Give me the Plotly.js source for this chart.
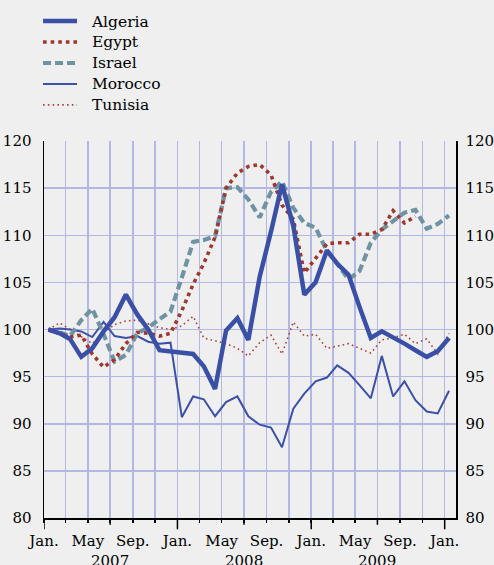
<!DOCTYPE html>
<html><head><meta charset="utf-8">
<script src="https://cdn.plot.ly/plotly-3.0.1.min.js"></script>
<style>
html,body{margin:0;padding:0;background:#efefef}
</style>
</head><body><div id="chart" style="width:494px;height:565px"></div>
<script>
const months = ['2007-01','2007-02','2007-03','2007-04','2007-05','2007-06','2007-07','2007-08','2007-09','2007-10','2007-11','2007-12',
'2008-01','2008-02','2008-03','2008-04','2008-05','2008-06','2008-07','2008-08','2008-09','2008-10','2008-11','2008-12',
'2009-01','2009-02','2009-03','2009-04','2009-05','2009-06','2009-07','2009-08','2009-09','2009-10','2009-11','2009-12','2010-01'];
const algeria = [100,99.6,99.0,97.1,98.0,99.8,101.3,103.7,101.6,100.0,97.8,97.7,97.5,97.4,96.1,93.7,99.9,101.2,98.9,105.6,110.4,115.4,111.0,103.7,105.0,108.4,107.0,105.8,102.4,99.1,99.8,99.2,98.5,97.8,97.1,97.7,99.1];
const egypt = [100,99.6,99.2,99.4,97.4,96.0,96.8,98.5,99.7,99.6,99.3,99.6,102.0,104.8,107.0,109.8,115.0,116.6,117.3,117.5,116.4,113.2,111.7,106.0,107.6,109.1,109.2,109.2,110.1,110.1,110.6,112.6,111.3,112.0,null,null,null];
const israel = [100,99.7,99.3,101.0,102.2,99.5,96.6,97.3,99.6,100.2,101.1,101.9,105.5,109.3,109.5,109.9,115.0,115.1,113.8,111.9,114.6,115.7,112.9,111.3,110.8,108.3,107.0,105.3,106.2,109.2,110.6,111.5,112.4,112.7,110.7,111.2,112.1];
const morocco = [100,100.1,100.0,99.8,99.2,100.8,99.3,99.1,99.3,98.7,98.5,98.6,90.7,92.9,92.6,90.8,92.3,92.9,90.8,89.9,89.6,87.5,91.6,93.2,94.5,94.9,96.2,95.4,94.1,92.7,97.2,92.9,94.5,92.5,91.3,91.1,93.5];
const tunisia = [100,100.7,100.0,99.2,98.5,99.7,100.5,100.9,101.0,100.6,100.2,100.0,100.4,101.4,99.1,98.8,98.5,98.0,97.2,98.6,99.4,97.4,100.8,99.3,99.5,98.0,98.2,98.5,98.0,97.5,98.9,99.1,99.5,98.5,99.0,97.4,99.6];

const tickVals = ['2007-01-01','2007-05-01','2007-09-01','2008-01-01','2008-05-01','2008-09-01','2009-01-01','2009-05-01','2009-09-01','2010-01-01'];
const tickText = ['Jan.','May','Sep.','Jan.','May','Sep.','Jan.','May','Sep.','Jan.'];
const yearLabels = ['2007','2008','2009'];
const yearPos = ['2007-07-01','2008-07-01','2009-07-01'];
const janTicks = ['2007-01-01','2008-01-01','2009-01-01','2010-01-01'];
const julTicks = ['2007-07-01','2008-07-01','2009-07-01'];

const x = months.map(m => m + '-13');
const serif = 'DejaVu Serif';
const fs = 15;
const lbl = s => '<span style="font-size:15.5px">&nbsp;&nbsp;' + s + '</span>';

const traces = [
  {name: lbl('Tunisia'), y: tunisia, line: {color: '#a8463c', width: 1.6, dash: '1.6px,3.2px'}},
  {name: lbl('Morocco'), y: morocco, line: {color: '#3b50a8', width: 2}},
  {name: lbl('Israel'), y: israel, line: {color: '#7093a3', width: 4.2, dash: '8px,4px'}},
  {name: lbl('Egypt'), y: egypt, line: {color: '#a0372d', width: 3.6, dash: '3.6px,4px'}},
  {name: lbl('Algeria'), y: algeria, line: {color: '#3a4fa6', width: 4.5}}
].map(t => Object.assign({x: x, type: 'scatter', mode: 'lines', hoverinfo: 'skip'}, t));
traces.push({x: [null], y: [null], yaxis: 'y2', showlegend: false, type: 'scatter', mode: 'lines', hoverinfo: 'skip'});

const shapes = [];
janTicks.forEach(d => shapes.push({type: 'line', xref: 'x', yref: 'paper', x0: d, x1: d, y0: -0.004, y1: -0.03, line: {color: '#000', width: 1.5}}));
julTicks.forEach(d => shapes.push({type: 'line', xref: 'x', yref: 'paper', x0: d, x1: d, y0: -0.004, y1: -0.018, line: {color: '#000', width: 1.5}}));

const annotations = yearLabels.map((t, i) => ({text: t, x: yearPos[i], xref: 'x', yref: 'paper', y: 0, yanchor: 'top', yshift: -32, showarrow: false, font: {family: serif, size: fs, color: '#000'}}));

const gridColor = '#b3b7e3';
const tf = {family: serif, size: fs, color: '#000'};
const layout = {
  width: 494, height: 565,
  paper_bgcolor: '#efefef', plot_bgcolor: '#efefef',
  margin: {l: 44, r: 38, t: 141, b: 47, pad: 0, autoexpand: false},
  font: tf,
  showlegend: true,
  legend: {xref: 'container', yref: 'container', x: 0.077, y: 0.99, xanchor: 'left', yanchor: 'top', traceorder: 'reversed', bgcolor: 'rgba(0,0,0,0)', font: {family: serif, size: 13.8, color: '#000'}, itemwidth: 34},
  xaxis: {
    type: 'date', range: ['2007-01-01', '2010-02-01'], automargin: false,
    tickmode: 'array', tickvals: tickVals, ticktext: tickText, tickangle: 0,
    ticks: 'outside', ticklen: 3, tickwidth: 1.5, tickcolor: '#000',
    showline: true, linecolor: '#000', linewidth: 1.5,
    showgrid: true, gridcolor: gridColor, gridwidth: 1.5,
    minor: {dtick: 'M2', tick0: '2007-01-01', showgrid: true, gridcolor: gridColor, gridwidth: 1.5, ticks: 'outside', ticklen: 3, tickwidth: 1.5, tickcolor: '#000'},
    zeroline: false, ticklabelstandoff: 5, tickfont: tf
  },
  yaxis: {
    range: [80, 120], dtick: 5, tick0: 80, automargin: false,
    showline: true, linecolor: '#000', linewidth: 1.5,
    showgrid: true, gridcolor: gridColor, gridwidth: 1.5, zeroline: false,
    ticks: '', ticklabelstandoff: 8, tickfont: tf
  },
  yaxis2: {
    overlaying: 'y', side: 'right', range: [80, 120], dtick: 5, tick0: 80, automargin: false,
    showline: true, linecolor: '#000', linewidth: 1.5, showgrid: false, zeroline: false,
    ticks: '', ticklabelstandoff: 5, tickfont: tf
  },
  shapes: shapes,
  annotations: annotations
};
Plotly.newPlot('chart', traces, layout, {displayModeBar: false, staticPlot: true});
</script></body></html>
